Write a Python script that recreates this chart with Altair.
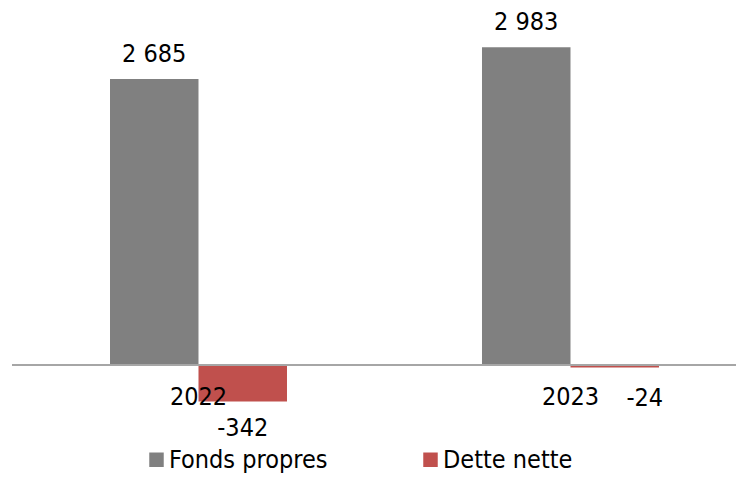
import altair as alt
import pandas as pd

years = ["2022", "2023"]
series = ["Fonds propres", "Dette nette"]
fonds_propres = [2685, 2983]
dette_nette = [-342, -24]
colors = ["#808080", "#c0504d"]

rows = []
for i, y in enumerate(years):
    rows.append({"year": y, "series": series[0], "value": fonds_propres[i]})
    rows.append({"year": y, "series": series[1], "value": dette_nette[i]})
df = pd.DataFrame(rows)
cats = pd.DataFrame({"year": years})

FONT = "DejaVu Sans Condensed, Liberation Sans Narrow, DejaVu Sans"

xenc = alt.X("year:N", axis=None,
             scale=alt.Scale(paddingInner=0.5242, paddingOuter=0.2406, align=0.5698))
xoff = alt.XOffset("series:N", sort=series,
                   scale=alt.Scale(paddingInner=0, paddingOuter=0))
yscale = alt.Scale(domain=[-1033, 3352], nice=False, zero=False)

base = alt.Chart(df).transform_calculate(
    label="replace(replace(format(datum.value, ','), ',', ' '), '\u2212', '-')"
)

bars = base.mark_bar().encode(
    x=xenc,
    xOffset=xoff,
    y=alt.Y("value:Q", axis=None, scale=yscale),
    color=alt.Color("series:N", sort=series,
                    scale=alt.Scale(domain=series, range=colors),
                    legend=alt.Legend(title=None, orient="none", legendX=136, legendY=439,
                                      direction="horizontal", symbolType="square",
                                      symbolSize=210, symbolStrokeWidth=0,
                                      labelFontSize=25, labelFont=FONT, labelColor="#000000",
                                      labelOffset=0, labelLimit=400, columnPadding=90,
                                      padding=0)),
)

zero_rule = alt.Chart(cats).mark_rule(color="#a6a6a6", strokeWidth=2).encode(
    x=alt.value(4), x2=alt.value(728), y=alt.datum(0)
)

pos_labels = base.transform_filter("datum.value >= 0").mark_text(
    fontSize=25, font=FONT, color="#000000", baseline="middle", dy=-25
).encode(x=xenc, xOffset=xoff, y=alt.Y("value:Q", scale=yscale), text="label:N")

neg_labels = base.transform_filter("datum.value < -100").mark_text(
    fontSize=25, font=FONT, color="#000000", baseline="middle", dy=27
).encode(x=xenc, xOffset=xoff, y=alt.Y("value:Q", scale=yscale), text="label:N")

small_neg_labels = base.transform_filter("datum.value < 0 && datum.value >= -100").mark_text(
    fontSize=25, font=FONT, color="#000000", baseline="middle", dx=30, dy=30
).encode(x=xenc, xOffset=xoff, y=alt.Y("value:Q", scale=yscale), text="label:N")

cat_labels = alt.Chart(cats).mark_text(
    fontSize=25, font=FONT, color="#000000", baseline="middle", dy=32
).encode(x=alt.X("year:N"), y=alt.datum(0), text="year:N")

chart = alt.layer(bars, zero_rule, pos_labels, neg_labels, small_neg_labels, cat_labels).properties(
    width=728, height=467, padding=0, autosize=alt.AutoSizeParams(type="none")
).configure(background="white", view=alt.ViewConfig(stroke=None))

chart.save("out.html", embed_options={"renderer": "svg", "actions": False})
